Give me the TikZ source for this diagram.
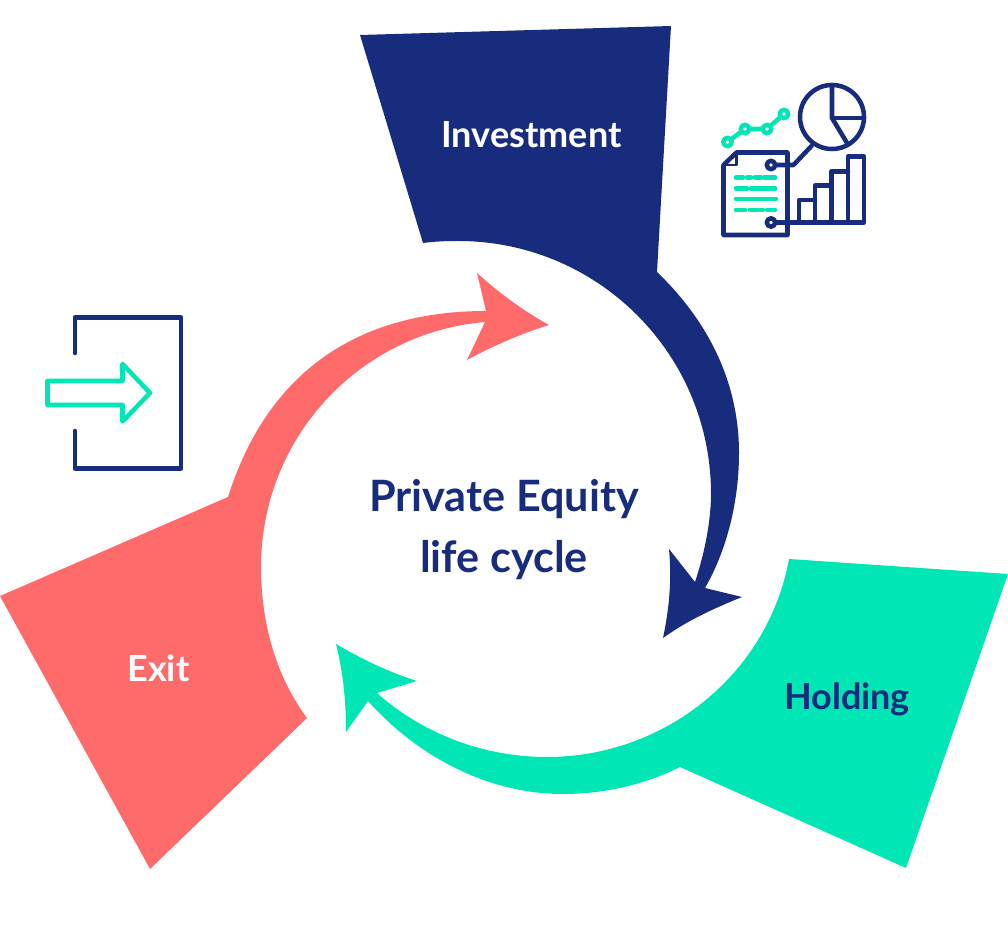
\documentclass[tikz,border=0pt]{standalone}
\usepackage{fontspec}
\setmainfont{Lato}
\usepackage{xcolor}
\definecolor{dfnavy}{RGB}{24,44,126}
\definecolor{dfmint}{RGB}{0,230,180}
\definecolor{dfcoral}{RGB}{255,107,107}
\tikzstyle{stagelabel} = [font=\fontsize{27}{32}\selectfont\bfseries, anchor=base, inner sep=0pt]
\tikzstyle{iconnavy} = [line width=3.4pt, color=dfnavy, line join=round, line cap=round]
\tikzstyle{iconmint} = [line width=3.4pt, color=dfmint, line join=round, line cap=round]
\begin{document}
\begin{tikzpicture}[x=0.75pt, y=-0.75pt]
\useasboundingbox (0,0) rectangle (1008,948);

% Investment
\fill[dfnavy] (360,35) -- (671,26) -- (657,272) .. controls (708,321) and (739,382) .. (739,453) .. controls (739,499) and (728,548) .. (705,588)
  -- (742,597) .. controls (715,608) and (688,620) .. (663,638) .. controls (669,610) and (672,580) .. (669,549) -- (695,582)
  .. controls (705,552) and (711,520) .. (711,494) .. controls (711,354) and (598,241) .. (458,241) .. controls (446,241) and (434,241.5) .. (423,243) -- cycle;

% Holding
\fill[dfmint] (789,559) -- (1008,574) -- (906,868) -- (680,767) .. controls (644,785) and (603.5,794) .. (563,794) .. controls (488.5,794) and (418,757) .. (368,701)
  -- (346,732) .. controls (346,700) and (343,672) .. (336,644) .. controls (360,658) and (388,672) .. (417,681) -- (377,693)
  .. controls (423,734) and (484,757) .. (547,757) .. controls (665,757) and (768,674) .. (789,559) -- cycle;

% Exit
\fill[dfcoral] (0,596) -- (228,497) .. controls (267,373.5) and (356,311) .. (486,311)
  -- (477,273) .. controls (498,292) and (522,310) .. (549,325) .. controls (520,334) and (493,346) .. (467,360) -- (485,322)
  .. controls (358,333) and (261,439) .. (261,567) .. controls (261,621) and (275,675) .. (307,718) -- (150,869) -- cycle;

% Labels
\node (investment) [stagelabel, text=white] at (531.5,148) {Investment};
\node (holding) [stagelabel, text=dfnavy] at (847,709.5) {Holding};
\node (exit) [stagelabel, text=white] at (158.5,682) {Exit};
\node (title) [font=\fontsize{32.4}{45.75}\selectfont\bfseries, text=dfnavy, align=center, inner sep=0pt] at (504,530) {Private Equity\\life cycle};

% Door with arrow
\draw[iconnavy] (75,353) -- (75,317.5) -- (181,317.5) -- (181,468.5) -- (75,468.5) -- (75,431);
\draw[iconmint] (47.5,381) -- (122.5,381) -- (122.5,364) -- (150,393) -- (122.5,421.5) -- (122.5,405) -- (47.5,405) -- cycle;

% Line chart above the sheet
\draw[iconmint] (727.5,142) -- (745,129) -- (767,129) -- (784,114);
\foreach \px/\py in {727.5/142, 745/129, 767/129, 784/114}
  \draw[iconmint, fill=white] (\px,\py) circle (4.2);

% Pie
\draw[iconnavy] (832,117) circle (32);
\draw[iconnavy] (832,85) -- (832,118) -- (847,143);
\draw[iconnavy] (832,118) -- (864,118);

% Sheet
\draw[iconnavy] (723.5,165) -- (736.5,152.5) -- (787.5,152.5) -- (787.5,235) -- (723.5,235) -- cycle;
\draw[iconnavy, line width=2pt] (723.5,165) -- (736.5,165) -- (736.5,152.5);
\foreach \xa/\xb/\py in {736/743/177.5, 747/751/177.5, 755/761/177.5, 764/775/177.5,
    736/747/188.5, 751/775/188.5, 736/776/199, 736/745/210, 750/757/210, 760/763/210, 767/775/210}
  \draw[iconmint] (\xa,\py) -- (\xb,\py);

% Bars
\draw[iconnavy] (771,222.5) -- (864,222.5) -- (864,156.5) -- (848,156.5) -- (848,222.5);
\draw[iconnavy] (848,171.5) -- (831.5,171.5) -- (831.5,222.5);
\draw[iconnavy] (831.5,185.5) -- (815,185.5) -- (815,222.5);
\draw[iconnavy] (815,200) -- (799,200) -- (799,222.5);

% Pie lead and pins
\draw[iconnavy] (811.5,146) -- (793.5,165) -- (771,165);
\foreach \py in {165, 222.5}
  \draw[iconnavy, fill=white] (771,\py) circle (4.2);
\end{tikzpicture}
\end{document}
